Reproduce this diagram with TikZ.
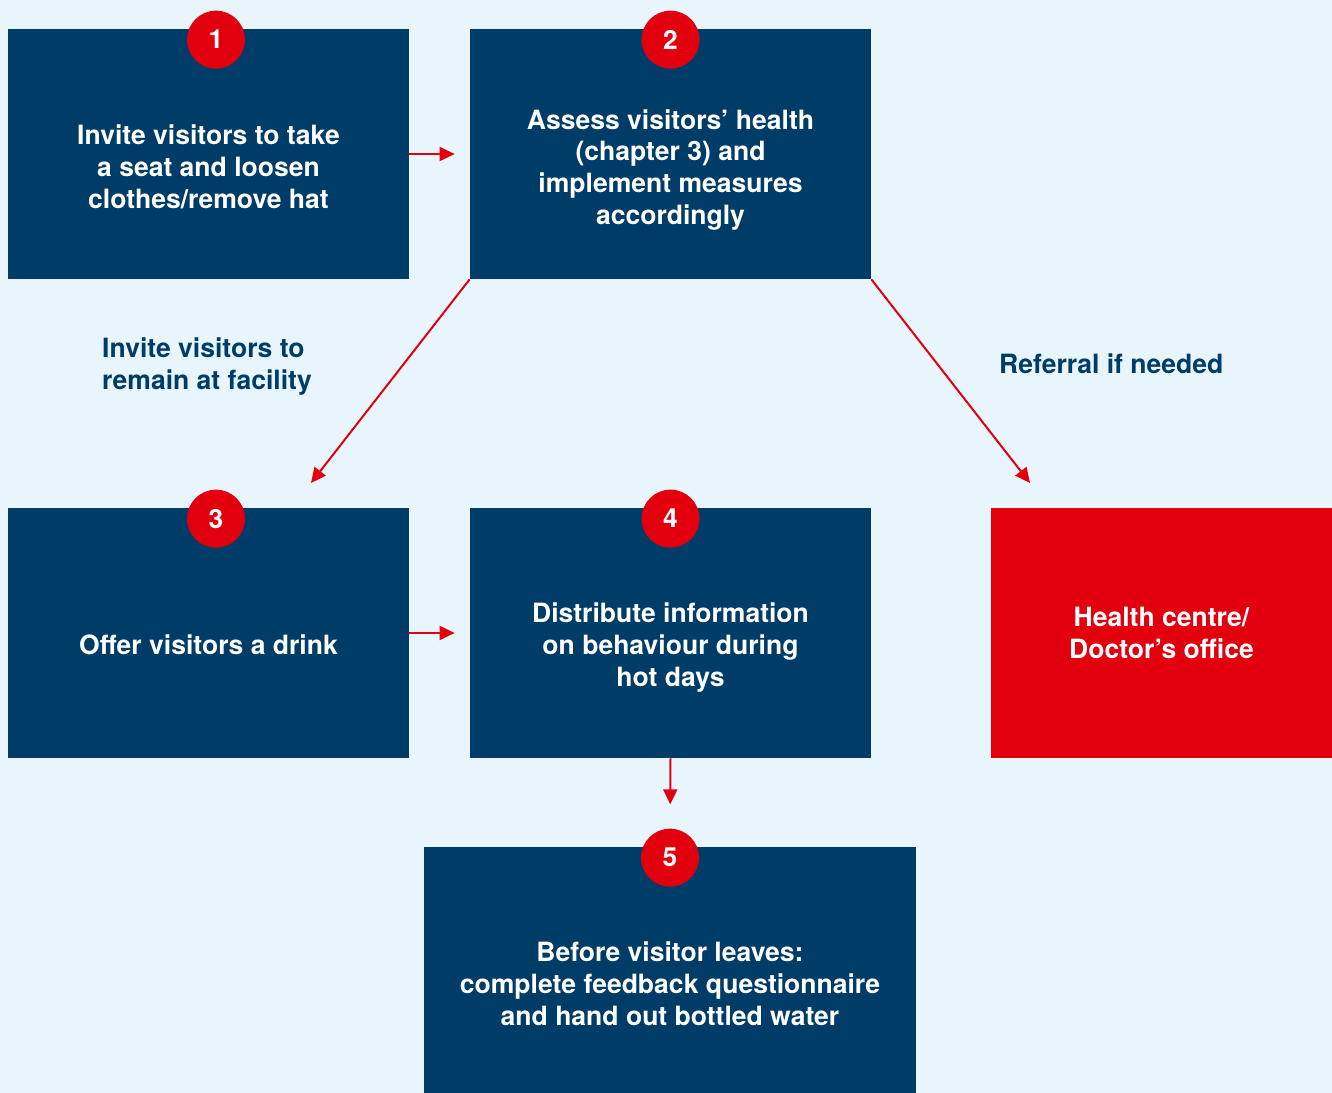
\documentclass[tikz,border=0pt]{standalone}
\usepackage{fontspec}
\setmainfont{TeX Gyre Heros}
\usepackage{tikz}
\usetikzlibrary{arrows.meta, positioning, calc}
\definecolor{bgblue}{RGB}{232,245,253}
\definecolor{navy}{RGB}{0,60,104}
\definecolor{alertred}{RGB}{226,0,15}

\begin{document}
\begin{tikzpicture}[
    box/.style={rectangle, fill=navy, minimum width=8.02cm, minimum height=5cm, inner sep=0pt},
    boxtext/.style={align=center, text=white, font=\fontsize{15.1}{18.2}\selectfont\bfseries},
    num/.style={circle, fill=alertred, minimum size=1.16cm, inner sep=0pt, text=white, font=\fontsize{15}{18}\selectfont\bfseries},
    note/.style={align=left, text=navy, font=\fontsize{15.1}{18.2}\selectfont\bfseries},
    arrow/.style={-{Triangle[length=0.3cm, width=0.28cm]}, alertred, line width=0.04cm}
]

\useasboundingbox (0,0) rectangle (26.64,-21.86);
\clip (0,0) rectangle (26.64,-21.86);
\fill[bgblue] (0,0) rectangle (26.64,-21.86);

% Step 1
\node[box] (b1) at (4.17,-3.08) {};
\node[boxtext] at ([yshift=-0.26cm]b1.center) {Invite visitors to take\\a seat and loosen\\clothes/remove hat};
\node[num] (n1) at ([xshift=0.15cm, yshift=-0.22cm]b1.north) {1};

% Step 2
\node[box] (b2) at (13.41,-3.08) {};
\node[boxtext] at ([yshift=-0.32cm]b2.center) {Assess visitors’ health\\(chapter 3) and\\implement measures\\accordingly};
\node[num] (n2) at ([yshift=-0.22cm]b2.north) {2};

% Step 3
\node[box] (b3) at (4.17,-12.66) {};
\node[boxtext] at ([yshift=-0.24cm]b3.center) {Offer visitors a drink};
\node[num] (n3) at ([xshift=0.15cm, yshift=-0.22cm]b3.north) {3};

% Step 4
\node[box] (b4) at (13.41,-12.66) {};
\node[boxtext] at ([yshift=-0.3cm]b4.center) {Distribute information\\on behaviour during\\hot days};
\node[num] (n4) at ([yshift=-0.22cm]b4.north) {4};

% Health centre
\node[box, fill=alertred, minimum width=6.82cm] (doc) at (23.23,-12.66) {};
\node[boxtext] at (doc.center) {Health centre/\\Doctor’s office};

% Step 5
\node[box, minimum width=9.84cm, minimum height=5.48cm] (b5) at (13.40,-19.68) {};
\node[boxtext] at (b5.center) {Before visitor leaves:\\complete feedback questionnaire\\and hand out bottled water};
\node[num] (n5) at ([yshift=-0.22cm]b5.north) {5};

% Side notes
\node[note, anchor=west] (stay) at (1.92,-7.34) {Invite visitors to\\remain at facility};
\node[note, anchor=west] (refer) at (19.86,-7.28) {Referral if needed};

% Arrows
\coordinate (e3) at (6.22,-9.66);
\coordinate (edoc) at (20.6,-9.66);
\draw[arrow, shorten >=0.3cm] (b1.east) -- (b2.west);
\draw[arrow, shorten >=0.3cm] (b3.east) -- (b4.west);
\draw[arrow] (b2.south west) -- (e3);
\draw[arrow] (b2.south east) -- (edoc);
\draw[arrow, shorten >=0.48cm] (b4.south) -- (n5.north);

\end{tikzpicture}
\end{document}
